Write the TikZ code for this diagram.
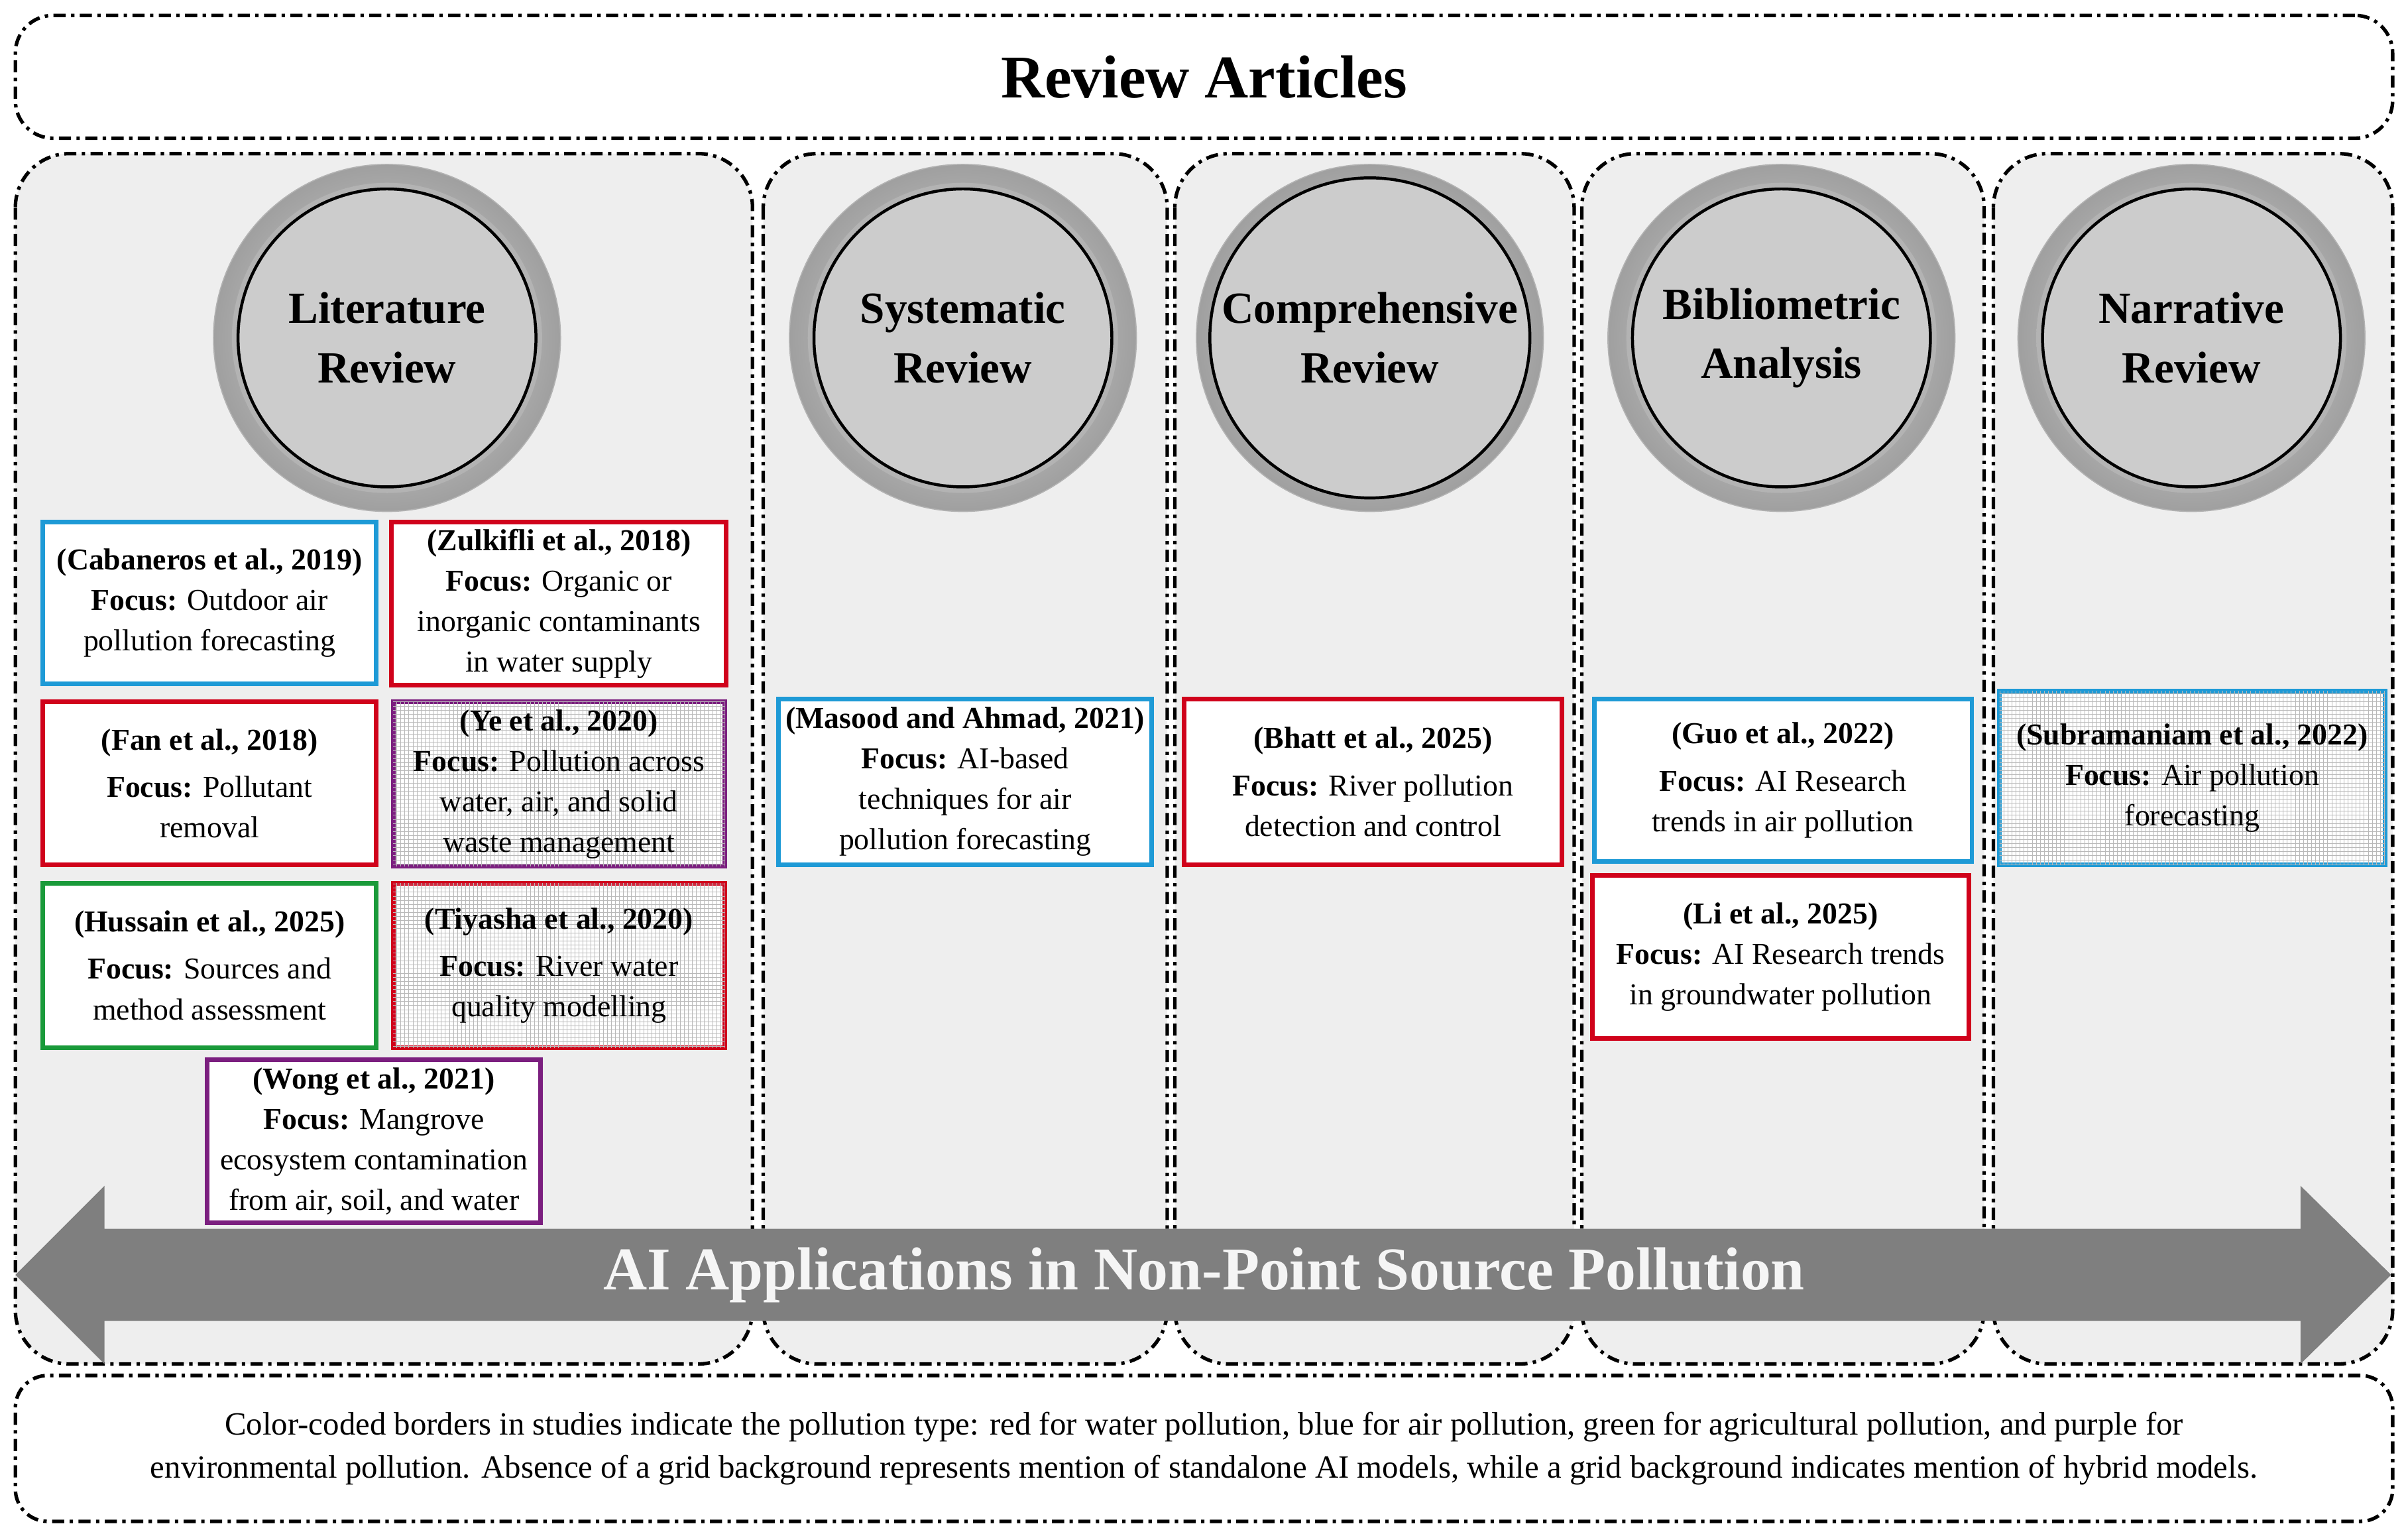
\documentclass[tikz,border=0pt]{standalone}
\usepackage{fontspec}
\setmainfont{Liberation Serif}
\usetikzlibrary{patterns,shadings}
\definecolor{cblue}{HTML}{1E9AD6}
\definecolor{cred}{HTML}{D0021B}
\definecolor{cgreen}{HTML}{1A9A3A}
\definecolor{cpurple}{HTML}{7B1F7F}
\definecolor{colfill}{HTML}{EEEEEE}
\definecolor{arrowgray}{HTML}{7F7F7F}
\tikzset{
  dd/.style={line width=2.6pt, dash pattern=on 9pt off 4pt on 2.5pt off 4pt},
  col/.style={dd, rounded corners=40pt, fill=colfill},
  bxs/.style={draw=#1, line width=3.4pt, fill=white, align=center, inner sep=1pt,
     font=\fontsize{22.5}{30}\selectfont},
  gridded/.style={postaction={pattern=grid, pattern color=gray!55}},
  lbl/.style={align=center, font=\fontsize{33}{44}\selectfont\bfseries},
}
\newcommand{\bx}[8]{\node[bxs=#6,#7, minimum width={(#4-#2)*0.4mm}, minimum height={(#5-#3)*0.4mm}]
  (#1) at ({(#2+#4)/2},{(#3+#5)/2}) {#8};}
\newcommand{\mycirc}[3]{%
  \shade[inner color=gray!25, outer color=gray!75, draw=gray!60, line width=0.8pt] (#2) circle (113);
  \shade[inner color=gray!30, outer color=gray!60] (#2) circle (101);
  \node[circle, draw=black, line width=2.2pt, fill=black!20, minimum size={194*0.4mm}, lbl] (#1) at (#2) {#3};}
\begin{document}
\begin{tikzpicture}[x=0.4mm,y=-0.4mm]
\useasboundingbox (0,0) rectangle (1568,1000);
\fill[white] (0,0) rectangle (1568,1000);
% top
\node[dd, draw, rounded corners=28pt, minimum width={1548*0.4mm}, minimum height={80*0.4mm},
  font=\fontsize{45}{52}\selectfont\bfseries] (title) at (784,50) {Review Articles};
% columns
\draw[col] (10,100) rectangle (490,888);
\draw[col] (497,100) rectangle (760,888);
\draw[col] (765,100) rectangle (1025,888);
\draw[col] (1030,100) rectangle (1292,888);
\draw[col] (1298,100) rectangle (1558,888);
% circles
\mycirc{c1}{252,220}{Literature\\Review}
\mycirc{c2}{627,220}{Systematic\\Review}
\mycirc{c3}{892,220}{Comprehensive\\Review}
\mycirc{c4}{1160,220}{Bibliometric\\Analysis}
\mycirc{c5}{1427,220}{Narrative\\Review}
% boxes
\bx{b1}{28}{340}{245}{445}{cblue}{}{\textbf{(Cabaneros et al., 2019)}\\\textbf{Focus:} Outdoor air\\pollution forecasting}
\bx{b2}{255}{340}{473}{446}{cred}{}{\textbf{(Zulkifli et al., 2018)}\\\textbf{Focus:} Organic or\\inorganic contaminants\\in water supply}
\bx{b3}{28}{457}{245}{563}{cred}{}{\textbf{(Fan et al., 2018)}\\[5pt]\textbf{Focus:} Pollutant\\removal}
\bx{b4}{256}{457}{472}{564}{cpurple}{gridded}{\textbf{(Ye et al., 2020)}\\\textbf{Focus:} Pollution across\\water, air, and solid\\waste management}
\bx{b5}{28}{575}{245}{682}{cgreen}{}{\textbf{(Hussain et al., 2025)}\\[5pt]\textbf{Focus:} Sources and\\method assessment}
\bx{b6}{256}{575}{472}{682}{cred}{gridded}{\textbf{(Tiyasha et al., 2020)}\\[5pt]\textbf{Focus:} River water\\quality modelling}
\bx{b7}{135}{690}{352}{796}{cpurple}{}{\textbf{(Wong et al., 2021)}\\\textbf{Focus:} Mangrove\\ecosystem contamination\\from air, soil, and water}
\bx{b8}{507}{455}{750}{563}{cblue}{}{\textbf{(Masood and Ahmad, 2021)}\\\textbf{Focus:} AI-based\\techniques for air\\pollution forecasting}
\bx{b9}{771}{455}{1017}{563}{cred}{}{\textbf{(Bhatt et al., 2025)}\\[5pt]\textbf{Focus:} River pollution\\detection and control}
\bx{b10}{1038}{455}{1284}{561}{cblue}{}{\textbf{(Guo et al., 2022)}\\[5pt]\textbf{Focus:} AI Research\\trends in air pollution}
\bx{b11}{1037}{570}{1282}{676}{cred}{}{\textbf{(Li et al., 2025)}\\\textbf{Focus:} AI Research trends\\in groundwater pollution}
\bx{b12}{1302}{450}{1553}{563}{cblue}{gridded}{\textbf{(Subramaniam et al., 2022)}\\\textbf{Focus:} Air pollution\\forecasting}
% arrow
\fill[arrowgray] (10,830) -- (68,772) -- (68,800) -- (1498,800) -- (1498,772) -- (1557,830)
  -- (1498,888) -- (1498,860) -- (68,860) -- (68,888) -- cycle;
\node[text=white!92!gray, font=\fontsize{45}{52}\selectfont\bfseries] (arr) at (784,830)
  {AI Applications in Non-Point Source Pollution};
% note
\node[dd, draw, rounded corners=24pt, minimum width={1548*0.4mm}, minimum height={95*0.4mm},
  align=center, font=\fontsize{24}{32}\selectfont] (note) at (784,943)
  {Color-coded borders in studies indicate the pollution type: red for water pollution, blue for air pollution, green for agricultural pollution, and purple for\\
  environmental pollution. Absence of a grid background represents mention of standalone AI models, while a grid background indicates mention of hybrid models.};
\end{tikzpicture}
\end{document}
